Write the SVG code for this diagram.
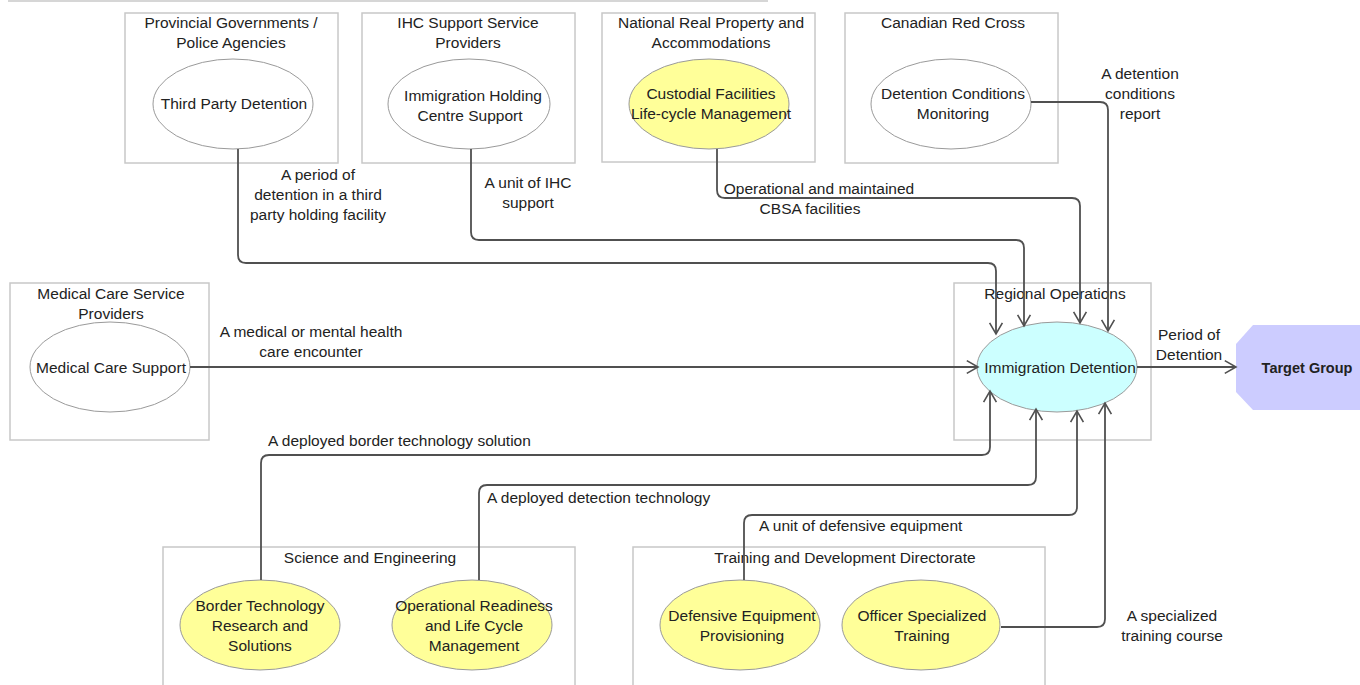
<svg xmlns="http://www.w3.org/2000/svg" width="1360" height="685" viewBox="0 0 1360 685">
<defs>
<style>
.box{fill:#fff;stroke:#c8c8c8;stroke-width:1.5}
.el{stroke:#9a9a9a;stroke-width:1}
.w{fill:#fff}
.y{fill:#ffff99}
.c{fill:#ccffff}
text{font-family:"Liberation Sans",Arial,sans-serif;font-size:15.5px;fill:#222;text-anchor:middle}
.l{text-anchor:start}
.con{fill:none;stroke:#505050;stroke-width:1.8;marker-end:url(#arr)}
</style>
<marker id="arr" viewBox="0 0 20 20" refX="18" refY="10" markerWidth="16" markerHeight="16" markerUnits="userSpaceOnUse" orient="auto">
<path d="M4,2 L18,10 L4,18" fill="none" stroke="#505050" stroke-width="2"/>
</marker>
</defs>
<rect width="1360" height="685" fill="#fff"/>
<line x1="8" y1="1" x2="768" y2="1" stroke="#c8c8c8" stroke-width="1.5"/>

<g id="prov">
<rect class="box" x="125" y="13" width="213" height="150"/>
<text x="231" y="28">Provincial Governments /</text>
<text x="231" y="48">Police Agencies</text>
<ellipse class="el w" cx="233" cy="104" rx="80" ry="45"/>
<text x="234" y="109">Third Party Detention</text>
</g>
<g id="ihc">
<rect class="box" x="362" y="13" width="213" height="150"/>
<text x="468" y="28">IHC Support Service</text>
<text x="468" y="48">Providers</text>
<ellipse class="el w" cx="469" cy="104" rx="81" ry="45"/>
<text x="473" y="101">Immigration Holding</text>
<text x="470" y="121">Centre Support</text>
</g>
<g id="nrpa">
<rect class="box" x="602" y="13" width="213" height="149"/>
<text x="711" y="28">National Real Property and</text>
<text x="711" y="48">Accommodations</text>
<ellipse class="el y" cx="709" cy="104" rx="80" ry="45"/>
<text x="711" y="99">Custodial Facilities</text>
<text x="711" y="119">Life-cycle Management</text>
</g>
<g id="crc">
<rect class="box" x="845" y="13" width="213" height="150"/>
<text x="953" y="28">Canadian Red Cross</text>
<ellipse class="el w" cx="951" cy="104" rx="80" ry="45"/>
<text x="953" y="99">Detention Conditions</text>
<text x="953" y="119">Monitoring</text>
</g>
<g id="med">
<rect class="box" x="10" y="283" width="199" height="157"/>
<text x="111" y="299">Medical Care Service</text>
<text x="111" y="319">Providers</text>
<ellipse class="el w" cx="110" cy="367" rx="80" ry="45"/>
<text x="111" y="373">Medical Care Support</text>
</g>
<g id="reg">
<rect class="box" x="954" y="283" width="197" height="157"/>
<text x="1055" y="299">Regional Operations</text>
<ellipse class="el c" cx="1057" cy="367" rx="80" ry="45"/>
<text x="1060" y="373">Immigration Detention</text>
</g>
<g id="target">
<polygon points="1253,325 1362,325 1362,410 1253,410 1236,392 1236,344" fill="#ccccff"/>
<text x="1307" y="373" style="font-weight:bold;font-size:14.5px">Target Group</text>
</g>
<g id="sci">
<rect class="box" x="163" y="547" width="412" height="145"/>
<text x="370" y="563">Science and Engineering</text>
<ellipse class="el y" cx="260" cy="625" rx="80" ry="45"/>
<text x="260" y="611">Border Technology</text>
<text x="260" y="631">Research and</text>
<text x="260" y="651">Solutions</text>
<ellipse class="el y" cx="472" cy="625" rx="80" ry="45"/>
<text x="474" y="611">Operational Readiness</text>
<text x="474" y="631">and Life Cycle</text>
<text x="474" y="651">Management</text>
</g>
<g id="train">
<rect class="box" x="633" y="547" width="412" height="145"/>
<text x="845" y="563">Training and Development Directorate</text>
<ellipse class="el y" cx="740" cy="625" rx="80" ry="45"/>
<text x="742" y="621">Defensive Equipment</text>
<text x="742" y="641">Provisioning</text>
<ellipse class="el y" cx="921" cy="625" rx="79" ry="45"/>
<text x="922" y="621">Officer Specialized</text>
<text x="922" y="641">Training</text>
</g>

<g id="connectors">
<path class="con" d="M238,149 V255 Q238,263 246,263 H988 Q996,263 996,271 V334"/>
<path class="con" d="M471,149 V232 Q471,240 479,240 H1016 Q1024,240 1024,248 V326"/>
<path class="con" d="M717,149 V190 Q717,198 725,198 H1072 Q1080,198 1080,206 V323"/>
<path class="con" d="M1031,102 H1100 Q1108,102 1108,110 V331"/>
<path class="con" d="M190,367 H978"/>
<path class="con" d="M1137,367 H1236"/>
<path class="con" d="M261,580 V463 Q261,455 269,455 H982 Q990,455 990,447 V391"/>
<path class="con" d="M479,580 V493 Q479,485 487,485 H1028 Q1036,485 1036,477 V409"/>
<path class="con" d="M744,580 V523 Q744,515 752,515 H1069 Q1077,515 1077,507 V411"/>
<path class="con" d="M1001,627 H1097 Q1105,627 1105,619 V403"/>
</g>

<g id="labels">
<text x="318" y="180">A period of</text>
<text x="318" y="200">detention in a third</text>
<text x="318" y="220">party holding facility</text>
<text x="528" y="188">A unit of IHC</text>
<text x="528" y="208">support</text>
<text x="819" y="194">Operational and maintained</text>
<text x="810" y="214">CBSA facilities</text>
<text x="1140" y="79">A detention</text>
<text x="1140" y="99">conditions</text>
<text x="1140" y="119">report</text>
<text x="311" y="337">A medical or mental health</text>
<text x="311" y="357">care encounter</text>
<text class="l" x="268" y="446">A deployed border technology solution</text>
<text class="l" x="487" y="503">A deployed detection technology</text>
<text class="l" x="759" y="531">A unit of defensive equipment</text>
<text x="1172" y="621">A specialized</text>
<text x="1172" y="641">training course</text>
<text x="1189" y="340">Period of</text>
<text x="1189" y="360">Detention</text>
</g>
</svg>
